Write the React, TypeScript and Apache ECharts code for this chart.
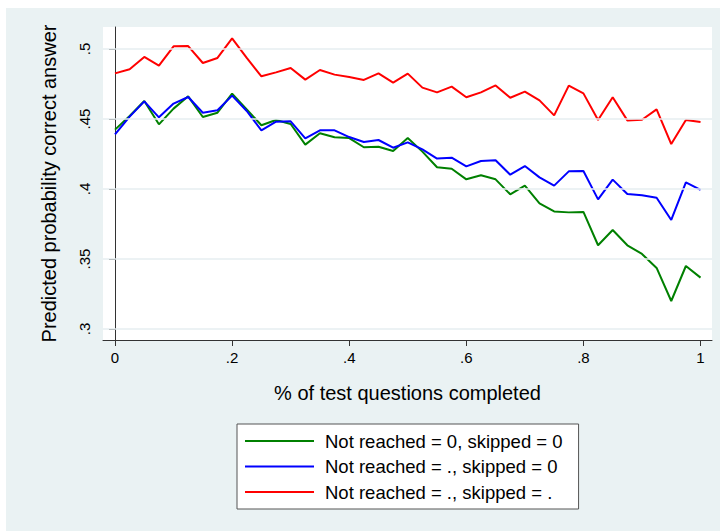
import React, { useEffect, useRef } from "react";
import * as echarts from "echarts";

const seriesNames = [
  "Not reached = 0, skipped = 0",
  "Not reached = ., skipped = 0",
  "Not reached = ., skipped = .",
];

const xValues = [
  0, 0.025, 0.05, 0.075, 0.1, 0.125, 0.15, 0.175, 0.2, 0.225, 0.25, 0.275, 0.3,
  0.325, 0.35, 0.375, 0.4, 0.425, 0.45, 0.475, 0.5, 0.525, 0.55, 0.575, 0.6,
  0.625, 0.65, 0.675, 0.7, 0.725, 0.75, 0.775, 0.8, 0.825, 0.85, 0.875, 0.9,
  0.925, 0.95, 0.975, 1,
];

const greenValues = [
  0.4424, 0.4521, 0.4629, 0.4462, 0.4574, 0.4662, 0.4514, 0.4545, 0.4681,
  0.4569, 0.4455, 0.4493, 0.4464, 0.4317, 0.4398, 0.4369, 0.4364, 0.4298,
  0.4302, 0.4271, 0.4364, 0.4267, 0.4155, 0.4145, 0.4069, 0.4098, 0.4069,
  0.3962, 0.4024, 0.3898, 0.384, 0.3833, 0.3836, 0.3598, 0.3707, 0.3598,
  0.3536, 0.3436, 0.32, 0.345, 0.3367,
];

const blueValues = [
  0.439, 0.4517, 0.4626, 0.4512, 0.461, 0.4657, 0.4545, 0.4562, 0.4667,
  0.4557, 0.4419, 0.4481, 0.4483, 0.4362, 0.4419, 0.4419, 0.4371, 0.4336,
  0.435, 0.4295, 0.4333, 0.4283, 0.4217, 0.4224, 0.4162, 0.42, 0.4205, 0.4102,
  0.4164, 0.4083, 0.4024, 0.4126, 0.4129, 0.3926, 0.4067, 0.3964, 0.3955,
  0.3938, 0.3779, 0.4048, 0.3993,
];

const redValues = [
  0.4826, 0.4855, 0.4943, 0.4881, 0.5019, 0.5021, 0.49, 0.4936, 0.5076,
  0.4936, 0.4805, 0.4833, 0.4864, 0.4781, 0.485, 0.4817, 0.48, 0.4779, 0.4826,
  0.476, 0.4824, 0.4724, 0.469, 0.4731, 0.4655, 0.469, 0.474, 0.4652, 0.4695,
  0.4633, 0.4526, 0.4738, 0.4683, 0.4493, 0.4655, 0.449, 0.4495, 0.4569,
  0.4321, 0.4493, 0.4479,
];

const seriesColors = ["#008000", "#0000ff", "#ff0000"];

const xTicks = [0, 0.2, 0.4, 0.6, 0.8, 1];
const xTickLabels = ["0", ".2", ".4", ".6", ".8", "1"];
const yTicks = [0.3, 0.35, 0.4, 0.45, 0.5];
const yTickLabels = [".3", ".35", ".4", ".45", ".5"];

const xTitle = "% of test questions completed";
const yTitle = "Predicted probability correct answer";

const FONT = "'Liberation Sans', Arial, Helvetica, sans-serif";

function labelFor(ticks: number[], labels: string[]) {
  return (v: number) => {
    let best = 0;
    for (let i = 0; i < ticks.length; i++) {
      if (Math.abs(ticks[i] - v) < Math.abs(ticks[best] - v)) best = i;
    }
    return labels[best];
  };
}

export default function App() {
  const ref = useRef<HTMLDivElement>(null);

  useEffect(() => {
    if (!ref.current) return;
    const chart = echarts.init(ref.current, undefined, { renderer: "svg" });
    const allValues = [greenValues, blueValues, redValues];
    const lineSeries = seriesNames.map((name, i) => ({
      name,
      type: "line",
      data: xValues.map((x, j) => [x, allValues[i][j]]),
      showSymbol: false,
      symbol: "none",
      z: 3,
      lineStyle: { color: seriesColors[i], width: 2 },
      itemStyle: { color: seriesColors[i] },
    }));
    chart.setOption({
      animation: false,
      textStyle: { fontFamily: FONT },
      graphic: [
        {
          type: "rect",
          z: -10,
          silent: true,
          shape: { x: 6, y: 8, width: 714, height: 523 },
          style: { fill: "#eaf2f3" },
        },
      ],
      grid: {
        left: 103,
        right: 9,
        top: 27,
        bottom: 191,
        show: true,
        backgroundColor: "#ffffff",
        borderWidth: 0,
      },
      xAxis: {
        type: "value",
        min: -0.0205,
        max: 1.0196,
        name: xTitle,
        nameLocation: "middle",
        nameGap: 43,
        nameTextStyle: { fontSize: 20, color: "#000", fontFamily: FONT },
        axisLine: { show: true, lineStyle: { color: "#333", width: 1 } },
        axisTick: {
          show: true,
          customValues: xTicks,
          length: 6,
          lineStyle: { color: "#333", width: 1 },
        },
        axisLabel: {
          customValues: xTicks,
          formatter: labelFor(xTicks, xTickLabels),
          fontSize: 15,
          color: "#000",
          margin: 10,
          fontFamily: FONT,
        },
        splitLine: { show: false },
      },
      yAxis: {
        type: "value",
        min: 0.29214,
        max: 0.51571,
        name: yTitle,
        nameLocation: "middle",
        nameGap: 44,
        nameRotate: 90,
        nameTextStyle: { fontSize: 20, color: "#000", fontFamily: FONT },
        axisLine: { show: true, lineStyle: { color: "#333", width: 1 } },
        axisTick: {
          show: true,
          customValues: yTicks,
          length: 6,
          lineStyle: { color: "#333", width: 1 },
        },
        axisLabel: {
          customValues: yTicks,
          formatter: labelFor(yTicks, yTickLabels),
          fontSize: 15,
          color: "#000",
          rotate: 90,
          margin: 11,
          fontFamily: FONT,
        },
        splitLine: { show: false },
      },
      legend: {
        data: seriesNames,
        orient: "vertical",
        left: 237,
        top: 424,
        backgroundColor: "#ffffff",
        borderColor: "#555",
        borderWidth: 1,
        borderRadius: 0,
        padding: [7, 16, 7, 8],
        itemWidth: 69,
        itemHeight: 2,
        itemGap: 5.5,
        icon: "rect",
        selectedMode: false,
        textStyle: {
          fontSize: 18.5,
          lineHeight: 20,
          color: "#000",
          padding: [0, 0, 0, 6],
          fontFamily: FONT,
        },
      },
      series: [
        {
          name: "grid",
          type: "line",
          data: [],
          z: 1,
          silent: true,
          markLine: {
            silent: true,
            symbol: ["none", "none"],
            label: { show: false },
            lineStyle: { color: "#e6eef0", width: 1.5, type: "solid" },
            data: yTicks.map((v) => ({ yAxis: v })),
          },
        },
        ...lineSeries,
      ],
    });
    return () => chart.dispose();
  }, []);

  return (
    <div
      ref={ref}
      style={{ position: "absolute", left: 0, top: 0, width: 721, height: 531 }}
    />
  );
}
